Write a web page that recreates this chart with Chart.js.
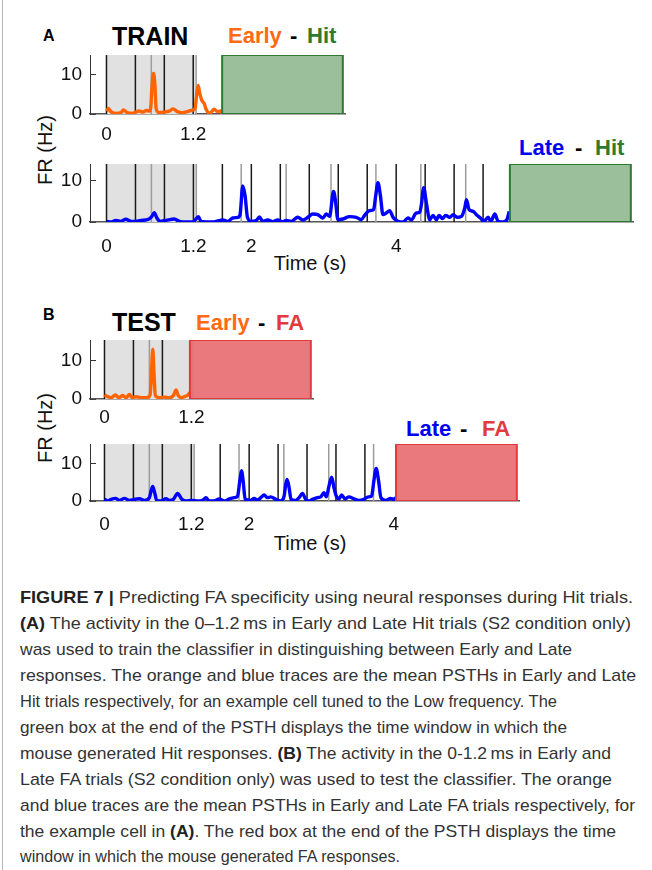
<!DOCTYPE html>
<html><head><meta charset="utf-8">
<script src="https://cdn.jsdelivr.net/npm/chart.js@4.4.0/dist/chart.umd.min.js"></script>
<style>
html,body{margin:0;padding:0;background:#fff;}
body{width:652px;height:870px;position:relative;overflow:hidden;font-family:"Liberation Sans",Arial,sans-serif;}
.abs{position:absolute;white-space:nowrap;line-height:1;}
canvas{position:absolute;}
.ttl{font-weight:bold;font-size:22px;}
.big{font-weight:bold;font-size:25px;color:#000;}
.lab{font-weight:bold;font-size:16px;color:#000;}
.ax{font-size:20px;color:#111;}
.cap{position:absolute;left:20px;white-space:nowrap;font-size:17px;line-height:26px;color:#333;transform-origin:0 50%;}
.cap b{color:#222;}
.orange{color:#ff6a13;} .green{color:#2e7a32;} .blue{color:#0000ee;} .red{color:#e23b3f;} .blk{color:#000;}
</style></head><body>
<div style="position:absolute;left:2px;top:0;width:1px;height:870px;background:#b5b5b5;"></div>

<!-- Panel A texts -->
<div class="abs lab" style="left:43px;top:28px;">A</div>
<div class="abs big" style="left:112px;top:24px;">TRAIN</div>
<div class="abs ttl orange" style="left:228px;top:25px;">Early</div>
<div class="abs ttl blk" style="left:290px;top:25px;">-</div>
<div class="abs ttl green" style="left:307px;top:25px;">Hit</div>
<div class="abs ttl blue" style="left:519px;top:137px;">Late</div>
<div class="abs ttl blk" style="left:575px;top:137px;">-</div>
<div class="abs ttl green" style="left:595px;top:137px;">Hit</div>
<div class="abs ax" style="left:45px;top:150px;transform:translate(-50%,-50%) rotate(-90deg);">FR (Hz)</div>
<div class="abs ax" style="left:310px;top:263px;transform:translate(-50%,-50%);">Time (s)</div>

<!-- Panel B texts -->
<div class="abs lab" style="left:43px;top:307px;">B</div>
<div class="abs big" style="left:112px;top:310px;">TEST</div>
<div class="abs ttl orange" style="left:196px;top:312px;">Early</div>
<div class="abs ttl blk" style="left:258px;top:312px;">-</div>
<div class="abs ttl red" style="left:276px;top:312px;">FA</div>
<div class="abs ttl blue" style="left:406px;top:418px;">Late</div>
<div class="abs ttl blk" style="left:460px;top:418px;">-</div>
<div class="abs ttl red" style="left:482px;top:418px;">FA</div>
<div class="abs ax" style="left:45px;top:428px;transform:translate(-50%,-50%) rotate(-90deg);">FR (Hz)</div>
<div class="abs ax" style="left:310px;top:543px;transform:translate(-50%,-50%);">Time (s)</div>

<canvas id="cA1"></canvas>
<canvas id="cA2"></canvas>
<canvas id="cB1"></canvas>
<canvas id="cB2"></canvas>

<div class="cap" data-r="633" style="top:585px;"><b>FIGURE 7 |</b> Predicting FA specificity using neural responses during Hit trials.</div>
<div class="cap" data-r="631" style="top:611px;"><b>(A)</b> The activity in the 0–1.2&#8201;ms in Early and Late Hit trials (S2 condition only)</div>
<div class="cap" data-r="572" style="top:637px;">was used to train the classifier in distinguishing between Early and Late</div>
<div class="cap" data-r="636" style="top:663px;">responses. The orange and blue traces are the mean PSTHs in Early and Late</div>
<div class="cap" data-r="557" style="top:689px;">Hit trials respectively, for an example cell tuned to the Low frequency. The</div>
<div class="cap" data-r="567" style="top:715px;">green box at the end of the PSTH displays the time window in which the</div>
<div class="cap" data-r="611" style="top:741px;">mouse generated Hit responses. <b>(B)</b> The activity in the 0-1.2&#8201;ms in Early and</div>
<div class="cap" data-r="612" style="top:767px;">Late FA trials (S2 condition only) was used to test the classifier. The orange</div>
<div class="cap" data-r="635" style="top:793px;">and blue traces are the mean PSTHs in Early and Late FA trials respectively, for</div>
<div class="cap" data-r="616" style="top:819px;">the example cell in <b>(A)</b>. The red box at the end of the PSTH displays the time</div>
<div class="cap" data-r="400" style="top:844px;">window in which the mouse generated FA responses.</div>

<script>
// ---------- DATA ----------
const blackTimes = [0, 0.4, 0.8, 1.2, 1.6, 2.0, 2.4, 2.8, 3.2, 3.6, 4.0, 4.4, 4.8, 5.2];
const grayTimes  = [0.62, 1.24, 1.86, 2.48, 3.10, 3.72, 4.34, 4.96];
const analysisWindow = [0, 1.23];
const yTickValues = [0, 10];
const xTicksEarly = [0, 1.2];
const xTicksLate  = [0, 1.2, 2, 4];

const boxEarlyHit = [1.6, 3.27];
const boxLateHit  = [5.57, 7.24];
const boxEarlyFA  = [1.18, 2.85];
const boxLateFA   = [4.03, 5.70];

const earlyHitT  = [0,0.028,0.06,0.129,0.198,0.235,0.29,0.36,0.406,0.452,0.507,0.553,0.6,0.613,0.632,0.65,0.669,0.687,0.728,0.798,0.867,0.922,0.982,1.051,1.12,1.189,1.226,1.249,1.268,1.291,1.319,1.351,1.383,1.429,1.489,1.535,1.581,1.595];
const earlyHitFR = [0.75,1.4,0.6,0.17,0.33,1.0,0.33,0.17,0.5,0.75,0.5,0.9,0.75,1.8,7.7,10.3,7.7,1.4,0.33,0.5,0.75,1.3,0.6,0.33,0.6,1.0,1.4,5.2,7.25,5.2,3.5,2.7,1.0,0.17,1.2,0.6,0.8,0.17];

const lateHitT  = [0,0.060,0.129,0.198,0.267,0.337,0.406,0.475,0.567,0.627,0.659,0.696,0.738,0.821,0.936,1.005,1.097,1.189,1.236,1.268,1.305,1.466,1.535,1.604,1.674,1.743,1.812,1.844,1.881,1.913,1.946,1.996,2.065,2.112,2.158,2.227,2.296,2.365,2.434,2.480,2.550,2.642,2.711,2.780,2.849,2.918,2.988,3.034,3.080,3.135,3.163,3.195,3.264,3.356,3.449,3.518,3.564,3.633,3.688,3.716,3.748,3.781,3.817,3.863,3.910,3.956,4.025,4.094,4.163,4.209,4.278,4.325,4.348,4.380,4.417,4.463,4.509,4.555,4.592,4.638,4.684,4.740,4.786,4.841,4.901,4.947,4.970,5.007,5.062,5.108,5.164,5.210,5.270,5.307,5.362,5.408,5.477,5.533,5.560];
const lateHitFR = [0.16,0,0.4,0.16,0.65,0.16,0.16,0.4,0.56,1.37,2.26,0.97,0.16,0.4,0.73,0.16,0,0,0.73,1.29,0.16,0,0.24,0.48,0.16,0.97,1.13,1.77,8.7,6.4,1.13,0.16,0.32,1.21,0.16,0.48,0.08,0.48,0,0.4,0.16,1.13,0.48,1.13,1.94,1.77,0.97,1.94,1.37,7.4,4.9,0.56,0.73,1.29,1.13,0.56,1.61,2.74,2.98,6.2,9.5,6.5,1.77,2.18,2.74,1.13,0.16,0,0.97,0.48,2.18,2.34,4.19,8.3,4.6,0.56,1.61,0.56,1.61,0.81,1.61,1.13,1.77,1.13,1.37,3.39,5.4,2.98,2.58,1.77,0.97,0.16,1.13,0.16,1.94,0.16,0,0.73,2.58];

const earlyFAT  = [0,0.046,0.092,0.152,0.198,0.253,0.299,0.345,0.382,0.437,0.506,0.575,0.63,0.648,0.667,0.685,0.703,0.759,0.828,0.897,0.952,0.989,1.016,1.057,1.103,1.149,1.182];
const earlyFAFR = [1.05,0.6,0.35,1.05,0.35,0.9,0.35,1.2,0.35,0.6,0.35,0.35,1.0,6.3,13.1,6.3,0.9,0.35,0.5,0.35,0.9,2.4,1.0,0.35,0.6,1.0,1.75];

const lateFAT  = [0,0.046,0.092,0.152,0.207,0.276,0.345,0.414,0.483,0.552,0.621,0.644,0.667,0.694,0.722,0.782,0.851,0.897,0.952,1.011,1.071,1.126,1.209,1.287,1.356,1.402,1.448,1.517,1.586,1.655,1.724,1.793,1.839,1.871,1.894,1.917,1.945,2.023,2.069,2.115,2.161,2.207,2.253,2.299,2.368,2.437,2.483,2.506,2.524,2.552,2.579,2.644,2.690,2.736,2.782,2.828,2.874,2.943,2.989,3.034,3.067,3.103,3.140,3.172,3.205,3.241,3.278,3.324,3.379,3.448,3.517,3.586,3.646,3.692,3.724,3.756,3.789,3.821,3.885,3.954,4.0,4.032];
const lateFAFR = [0.45,0,0.45,0.7,0.18,0.7,0.18,0.45,0.6,0.18,0.9,2.7,3.9,2.2,0.18,0,0.6,0.18,0.45,2.0,0.45,0,0.18,0,0.18,0.9,0,0,0.55,0,0.55,0.9,1.3,5.4,8.1,5.4,0.45,0.18,0.7,0.18,0.9,1.6,0.9,1.1,0.45,0,1.3,4.5,5.8,3.6,0.45,0.18,0.9,2.0,0.45,0,0.45,0.9,1.1,2.2,1.1,4.0,6.4,3.6,1.3,0.6,1.6,0.6,1.1,0.6,0.18,0.45,1.1,1.3,5.4,8.75,5.4,0.9,0.18,0.7,0.45,0.9];

// ---------- STYLE ----------
const FONT = "'Liberation Sans', Arial, sans-serif";
const ORANGE = '#ff6400', BLUE = '#0000ff';
const GREEN_FILL = 'rgba(120,170,120,0.75)', GREEN_LINE = '#2e7a32';
const RED_FILL = 'rgba(228,88,92,0.8)', RED_LINE = '#e03a3e';

function rect(x1, x2, ymax) {
  return [{x:x1,y:0},{x:x1,y:ymax},{x:x2,y:ymax},{x:x2,y:0},{x:x1,y:0}];
}
function vlines(times, ymax) {
  const d = [];
  times.forEach(t => { d.push({x:t,y:0},{x:t,y:ymax},{x:t,y:null}); });
  return d;
}
function zip(ts, vs) { return ts.map((t,i)=>({x:t,y:vs[i]})); }

function makePanel(id, p) {
  const YW = 60, XH = 42, PT = 32, PR = 8, PXS = 72.4;
  const areaW = (p.xMax - p.xMin) * PXS;
  const areaH = p.bottom - p.top;
  const W = Math.round(YW + areaW + PR), H = Math.round(PT + areaH + XH);
  const cv = document.getElementById(id);
  cv.width = W; cv.height = H;
  cv.style.width = W + 'px'; cv.style.height = H + 'px';
  cv.style.left = (p.left - YW) + 'px'; cv.style.top = (p.top - PT) + 'px';
  const end = p.box[0] - 0.05;
  const datasets = [
    {data: rect(analysisWindow[0], analysisWindow[1], p.yMax), fill:'shape', backgroundColor:'#e1e1e1', borderWidth:0, order:5},
    {data: vlines(grayTimes.filter(t=>t<end), p.yMax), borderColor:'#9c9c9c', borderWidth:1.5, fill:false, order:4},
    {data: vlines(blackTimes.filter(t=>t<end), p.yMax), borderColor:'#1a1a1a', borderWidth:1.5, fill:false, order:3},
    {data: zip(p.t, p.v), borderColor:p.color, borderWidth:3.4, fill:false, cubicInterpolationMode:'monotone', order:2},
    {data: rect(p.box[0], p.box[1], p.yMax), fill:'shape', backgroundColor:p.boxFill, borderColor:p.boxLine, borderWidth:2, order:1}
  ];
  new Chart(cv, {
    type:'line',
    data:{datasets},
    options:{
      responsive:false, animation:false, devicePixelRatio:1,
      layout:{padding:{top:PT, right:PR, left:0, bottom:0}},
      elements:{point:{radius:0, hoverRadius:0}, line:{borderJoinStyle:'round', borderCapStyle:'butt'}},
      plugins:{legend:{display:false}, tooltip:{enabled:false}, title:{display:false}},
      events:[],
      scales:{
        x:{type:'linear', min:p.xMin, max:p.xMax,
           afterFit:s=>{s.height = XH;},
           afterBuildTicks:s=>{s.ticks = p.xTicks.map(v=>({value:v}));},
           grid:{display:false, drawTicks:false},
           border:{display:true, color:'#555', width:1.5},
           ticks:{padding:p.xPad, color:'#111', maxRotation:0, autoSkip:false, font:{family:FONT, size:19}, callback:v=>String(v)}},
        y:{type:'linear', min:0, max:p.yMax,
           afterFit:s=>{s.width = YW;},
           afterBuildTicks:s=>{s.ticks = yTickValues.map(v=>({value:v}));},
           grid:{drawOnChartArea:false, drawTicks:true, tickLength:-6, color:'#333', lineWidth:1},
           border:{display:true, color:'#333', width:1},
           ticks:{padding:14, color:'#111', font:{family:FONT, size:19}, callback:v=>String(v)}}
      }
    }
  });
}

makePanel('cA1', {left:90, top:55, bottom:114, xMin:-0.228, xMax:3.30, yMax:15, xTicks:xTicksEarly, xPad:9.5,
  t:earlyHitT, v:earlyHitFR, color:ORANGE, box:boxEarlyHit, boxFill:GREEN_FILL, boxLine:GREEN_LINE});
makePanel('cA2', {left:90, top:164, bottom:222, xMin:-0.228, xMax:7.27, yMax:14, xTicks:xTicksLate, xPad:13.5,
  t:lateHitT, v:lateHitFR, color:BLUE, box:boxLateHit, boxFill:GREEN_FILL, boxLine:GREEN_LINE});
makePanel('cB1', {left:90, top:340, bottom:399, xMin:-0.2, xMax:2.88, yMax:15.5, xTicks:xTicksEarly, xPad:7,
  t:earlyFAT, v:earlyFAFR, color:ORANGE, box:boxEarlyFA, boxFill:RED_FILL, boxLine:RED_LINE});
makePanel('cB2', {left:90, top:444, bottom:501, xMin:-0.2, xMax:5.73, yMax:15.3, xTicks:xTicksLate, xPad:12.5,
  t:lateFAT, v:lateFAFR, color:BLUE, box:boxLateFA, boxFill:RED_FILL, boxLine:RED_LINE});

// caption: condense each line to the measured width in the reference
document.querySelectorAll('.cap').forEach(c => {
  const w = c.getBoundingClientRect().width;
  const target = parseFloat(c.dataset.r) - 20;
  c.style.transform = 'scaleX(' + (target / w) + ')';
});
</script>
</body></html>
